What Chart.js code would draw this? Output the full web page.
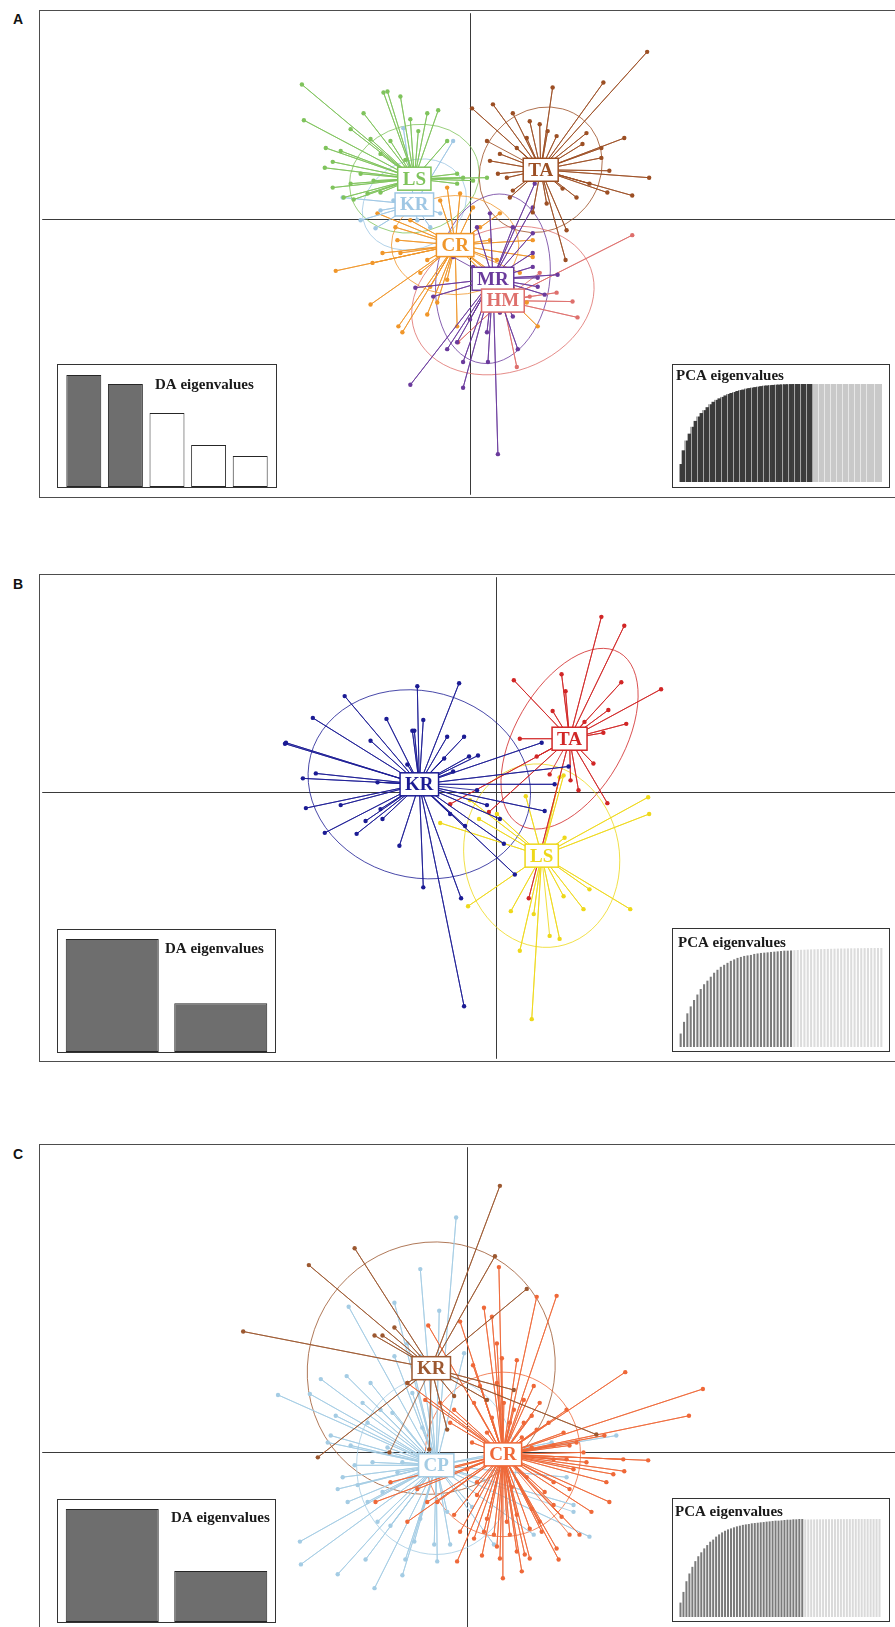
<!DOCTYPE html>
<html>
<head>
<meta charset="utf-8">
<script src="https://cdn.jsdelivr.net/npm/chart.js@4.4.1/dist/chart.umd.min.js"></script>
<style>
html, body { margin: 0; padding: 0; background: #fff; width: 895px; height: 1627px; overflow: hidden; }
.panel { position: absolute; left: 39px; width: 960px; height: 486px; border: 1px solid #4d4d4d; }
.panel canvas { position: absolute; left: 0; top: 0; }
.tag { position: absolute; left: 13px; font: bold 14px "Liberation Sans", Arial, sans-serif; color: #111; }
.inset { position: absolute; box-sizing: border-box; border: 1px solid #333; background: #fff; height: 124px; }
.inset canvas { position: absolute; left: 0; top: 0; }
</style>
</head>
<body>

<div class="tag" style="top:11px">A</div>
<div class="panel" style="top:10px"><canvas id="scA" width="880" height="486"></canvas></div>
<div class="inset" style="left:57px;top:364px;width:220px"><canvas id="daA" width="218" height="122"></canvas></div>
<div class="inset" style="left:672px;top:364px;width:218px"><canvas id="pcaA" width="216" height="122"></canvas></div>

<div class="tag" style="top:576px">B</div>
<div class="panel" style="top:574px"><canvas id="scB" width="880" height="486"></canvas></div>
<div class="inset" style="left:57px;top:929px;width:219px"><canvas id="daB" width="217" height="122"></canvas></div>
<div class="inset" style="left:672px;top:928px;width:218px"><canvas id="pcaB" width="216" height="122"></canvas></div>

<div class="tag" style="top:1146px">C</div>
<div class="panel" style="top:1144px"><canvas id="scC" width="880" height="486"></canvas></div>
<div class="inset" style="left:57px;top:1499px;width:219px"><canvas id="daC" width="217" height="122"></canvas></div>
<div class="inset" style="left:672px;top:1498px;width:218px"><canvas id="pcaC" width="216" height="122"></canvas></div>

<script>
// ---- panel A ----
const groupsA = ['LS', 'KR', 'TA', 'MR', 'CR', 'HM'];
const centersA = [[-5.6, 4.1], [-5.6, 1.5], [7.1, 5.0], [2.3, -6.0], [-1.5, -2.6], [3.3, -8.2]];
const ellipsesA = [[6.6, 5.4, 15], [5.4, 4.4, 25], [6.6, 5.9, 50], [5.7, 8.6, -8], [6.4, 5.0, 0], [9.4, 7.2, 20]];
const ptsA_LS = [[-16.9,13.6],[-16.7,10.0],[-14.5,7.2],[-14.6,5.2],[-13.8,5.8],[-11.7,2.0],[-12.7,2.2],[-10.3,2.6],[-9.0,2.7],[-10.7,10.7],[-8.7,12.8],[-7.0,12.4],[-4.3,10.7],[-3.2,11.0],[-12.0,9.1],[-10.0,8.1],[-13.0,6.9],[-9.0,6.6],[-8.0,7.9],[-6.0,10.1],[-5.2,8.9],[-11.0,4.6],[-9.7,3.9],[-12.0,3.6],[-13.8,3.2],[-2.3,7.9],[-1.3,4.6],[0.3,3.9],[1.7,4.2],[-0.7,4.2],[-1.3,3.6],[-8.3,12.9],[-6.5,6.0]];
const ptsA_KR = [[-6.7,9.2],[-1.7,7.9],[-12.8,2.2],[-11.0,-0.1],[-9.5,-0.9],[-5.3,-0.1],[-9.0,0.9],[-4.0,-0.8],[-3.0,0.6],[-7.7,1.9]];
const ptsA_TA = [[17.8,16.9],[13.4,13.8],[8.3,13.3],[2.3,11.6],[0.2,11.2],[4.3,10.7],[6.0,9.9],[7.0,9.6],[7.8,8.9],[8.7,8.4],[11.7,8.7],[11.3,7.6],[13.2,7.2],[15.5,8.2],[13.2,6.2],[14.0,4.9],[18.0,4.2],[16.3,2.4],[13.8,2.7],[12.0,3.6],[10.7,2.2],[9.3,3.1],[9.7,-1.1],[9.6,-4.1],[7.7,1.6],[6.3,0.7],[4.0,2.2],[2.8,4.6],[2.0,5.9],[3.0,6.6],[4.7,7.2],[3.7,4.2],[4.3,2.9],[5.7,8.2],[1.7,7.9]];
const ptsA_MR = [[-6.0,-16.7],[-0.7,-17.0],[2.8,-23.7],[-2.3,-13.1],[-0.7,-14.4],[1.8,-14.4],[4.8,-13.1],[-1.3,-12.4],[-5.5,-6.9],[-3.7,-7.8],[4.3,-9.8],[6.8,-5.9],[8.8,-5.6],[6.8,-6.8],[7.5,-7.6],[6.3,-4.8],[6.3,-3.4],[6.3,-1.4],[4.3,-0.8],[6.3,1.2],[6.5,3.6],[2.0,0.6],[0.7,-0.8],[0.3,-4.8],[3.0,-9.4],[1.7,-11.4],[0.0,-10.1],[-1.7,-3.8]];
const ptsA_CR = [[-13.5,-5.2],[-9.8,-4.4],[-8.8,-3.4],[-10.0,-8.6],[-7.2,-10.8],[-6.8,-11.4],[-4.3,-9.6],[-3.3,-8.4],[-7.0,-3.4],[-7.3,-2.1],[-7.5,-0.8],[-9.3,0.6],[-6.0,-0.1],[-4.3,-4.1],[-5.0,-5.4],[-4.0,-6.8],[-2.3,-6.1],[-1.3,-10.8],[6.3,-3.8],[6.8,-10.8],[5.7,-8.4],[4.3,-6.9],[2.7,-4.1],[2.0,-2.1],[1.0,-0.8],[0.3,1.2],[-1.0,2.6],[-2.3,3.2],[-3.0,1.9],[3.0,0.6],[6.3,-2.1],[5.0,-5.4]];
const ptsA_HM = [[16.3,-1.6],[10.3,-8.3],[10.8,-9.9],[4.7,-14.9],[-1.2,-12.4],[8.7,-7.4],[6.0,-7.8],[3.0,-9.4],[1.7,-6.1],[7.0,-5.4]];
const pointsA = [ptsA_LS, ptsA_KR, ptsA_TA, ptsA_MR, ptsA_CR, ptsA_HM];
const daA = [11.2, 10.3, 7.4, 4.2, 3.1];
const daKeepA = 2;
const pcaA = [0.18,0.32,0.42,0.49,0.56,0.62,0.665,0.70,0.73,0.76,0.79,0.815,0.835,0.85,0.865,0.88,0.895,0.905,0.915,0.925,0.935,0.94,0.95,0.955,0.96,0.965,0.97,0.975,0.98,0.982,0.985,0.987,0.99,0.991,0.993,0.994,0.995,0.996,0.997,0.998,0.998,0.999,0.999,1,1,
  1,1,1,1,1,1,1,1,1,1,1,1,1,1,1,1,1,1,1,1,1,1,1];
const pcaKeepA = 45;

// ---- panel B ----
const groupsB = ['KR', 'TA', 'LS'];
const centersB = [[-7.7, 0.8], [7.4, 5.4], [4.6, -6.4]];
const ellipsesB = [[11.3, 9.4, -15], [10.0, 5.5, 60], [7.8, 9.3, 10]];
const ptsB_KR = [[-7.9,10.7],[-3.7,11.0],[-15.2,9.7],[-18.4,7.5],[-11.0,7.4],[-7.3,7.3],[-8.4,6.2],[-8.2,6.2],[-12.6,5.2],[-21.1,5.0],[-21.2,4.9],[-4.9,5.6],[-3.2,5.6],[-2.7,3.6],[-1.8,3.7],[-5.2,3.4],[-4.3,2.1],[-8.9,2.8],[-18.1,1.9],[-19.4,1.4],[-11.9,1.0],[-19.1,-1.6],[-15.6,-1.3],[-17.2,-4.1],[-14.0,-4.2],[-13.1,-2.9],[-11.4,-2.7],[-11.6,-1.7],[-9.7,-5.4],[-7.3,-9.6],[-3.5,-10.7],[-3.2,-21.6],[1.9,-8.3],[0.8,-5.2],[-3.1,-3.4],[4.9,-1.9],[5.9,0.8],[7.3,2.6],[4.6,5.0],[0.4,-2.7],[-0.9,-1.3],[-4.6,-2.2],[-1.9,0.2]];
const ptsB_TA = [[10.6,17.7],[12.9,16.8],[1.8,11.3],[6.6,11.9],[7.0,10.2],[12.6,11.1],[16.6,10.4],[11.3,8.3],[13.1,6.9],[8.9,7.1],[5.7,8.2],[2.4,5.4],[4.1,3.6],[10.8,6.0],[9.8,2.9],[8.3,0.2],[11.2,-1.1],[7.5,1.2],[-4.6,-1.2],[-0.7,-2.0],[3.3,-10.7],[5.4,1.8]];
const ptsB_LS = [[3.6,-22.9],[2.4,-16.0],[6.4,-14.8],[8.8,-11.8],[13.5,-11.8],[1.5,-12.0],[3.8,-12.3],[-2.8,-11.5],[6.8,-10.5],[15.3,-0.5],[15.4,-2.2],[6.9,-4.6],[-5.6,-3.1],[-1.7,-2.7],[3.0,-0.4],[6.4,1.5],[6.8,1.7],[-2.6,-0.8],[0.1,-2.2],[9.4,-9.8],[5.4,-14.5]];
const pointsB = [ptsB_KR, ptsB_TA, ptsB_LS];
const daB = [11.1, 4.8];
const daKeepB = 2;
const pcaB = [0.136,0.254,0.34,0.41,0.475,0.53,0.586,0.634,0.67,0.71,0.75,0.78,0.81,0.83,0.85,0.87,0.885,0.9,0.91,0.92,0.925,0.93,0.94,0.945,0.95,0.953,0.956,0.96,0.963,0.966,0.97,0.973,0.973,0.975,
  0.978,0.98,0.982,0.983,0.985,0.986,0.987,0.988,0.989,0.99,0.991,0.992,0.993,0.994,0.995,0.995,0.996,0.997,0.997,0.998,0.998,0.999,0.999,1,1,1,1];
const pcaKeepB = 34;

// ---- panel C ----
const groupsC = ['KR', 'CR', 'CP'];
const centersC = [[-3.6, 8.5], [3.6, -0.2], [-3.1, -1.3]];
const ellipsesC = [[12.8, 12.4, 60], [7.8, 8.3, 0], [8.0, 9.0, 0]];
const ptsC_KR = [[3.3,26.9],[-11.3,20.6],[-15.9,18.9],[2.8,19.8],[6.0,16.5],[-22.5,12.2],[-7.3,12.6],[-9.3,11.8],[-8.5,11.8],[-15.0,-0.5],[-6.0,7.0],[4.7,6.3],[2.0,5.3],[-1.3,5.7],[13.0,1.8],[-2.0,2.3],[-3.8,0.3],[-7.8,0.0]];
const ptsC_CR = [[3.2,18.7],[7.0,15.7],[9.0,15.8],[1.7,14.6],[2.5,13.7],[-0.7,13.2],[-3.9,12.8],[3.0,11.0],[3.5,9.5],[5.0,9.3],[0.6,8.8],[15.9,8.1],[23.7,6.4],[22.3,3.7],[13.8,1.7],[18.2,-0.8],[15.8,-1.9],[14.3,-5.0],[11.3,-8.3],[9.2,-10.8],[5.8,-10.3],[2.7,-8.3],[0.7,-8.7],[-0.7,-8.0],[-3.0,-5.0],[-6.0,-7.0],[-9.2,-5.0],[-7.7,-3.0],[-4.0,-2.3],[-6.0,7.0],[-4.2,5.3],[-2.7,5.0],[-1.3,4.3],[5.7,5.3],[6.7,6.7],[7.3,5.0],[8.2,3.0],[9.7,2.0],[10.3,0.7],[12.0,-1.0],[10.7,-1.7],[8.7,-3.0],[7.8,-4.0],[6.5,-5.7],[5.0,-6.3],[4.0,-7.0],[2.0,-6.7],[1.0,-4.3],[0.0,-1.7],[-1.7,3.0],[4.7,4.3],[4.3,3.0],[8.7,-0.7],[14.0,-3.0],[5.5,-12.0],[3.6,-12.7],[-1.0,-11.0],[1.5,-10.4],[2.0,2.0],[5.5,1.5],[6.0,-2.5],[1.0,-3.0],[4.5,-3.5],[6.5,0.5],[2.5,3.5],[0.5,1.0],[11.0,1.0],[9.5,-6.5],[12.5,-6.0],[3.0,-9.5],[7.5,-8.0],
  [10.3,-3.7],[8.7,-5.3],[7.3,-7.0],[6.3,-7.7],[4.3,-8.3],[1.7,-8.0],[-1.3,-6.3],[-4.0,-5.0],[-5.0,-3.7],[8.7,0.7],[10.0,-0.7],[11.7,0.0],[14.7,-2.2],[15.7,-0.7],[7.0,2.3],[5.7,3.0],[3.7,5.0],[3.0,7.0],[1.3,6.7],[0.7,5.0],[6.5,3.7],[10.0,4.3],[9.0,-9.7],[5.0,-10.0],[3.3,-10.7],[6.3,-10.7],[10.3,-8.3]];
const ptsC_CP = [[-1.1,23.7],[-4.7,18.5],[-11.9,14.7],[-7.3,15.1],[-2.8,14.3],[-19.0,5.8],[-14.7,7.4],[-12.1,7.7],[-15.8,5.9],[-13.2,3.7],[-10.0,3.0],[-11.3,-1.3],[-9.5,-1.0],[-11.0,-3.3],[-16.8,-9.0],[-16.7,-11.3],[-12.0,-5.0],[-9.0,-7.0],[-7.7,-7.4],[-6.2,-10.8],[-3.3,-9.3],[-1.7,-9.3],[6.7,-8.3],[12.3,-8.5],[15.0,1.7],[10.7,-5.3],[2.7,-9.3],[-6.0,11.0],[-4.7,9.7],[-0.3,10.0],[-9.3,-13.7],[-10.2,-10.8],[-13.0,-12.3],[-6.5,-12.4],[-6.5,-1.0],[-8.0,0.5],[-5.0,-3.5],[-7.0,-2.0],[-4.5,2.5],[-14.0,1.0],[-12.5,-2.5],[-8.5,-4.0],[-2.0,-6.0],[0.5,-5.5],[-10.5,5.0],[-7.5,4.0],[-5.5,6.0],[8.5,1.0],[10.0,-2.5],
  [-7.3,9.7],[-9.7,7.0],[-8.7,4.3],[-13.7,1.7],[-11.7,0.7],[-13.0,-3.7],[-10.0,-5.0],[-4.7,-6.7],[-3.0,-11.0],[-5.3,-9.0],[10.7,-6.0]];
const pointsC = [ptsC_KR, ptsC_CR, ptsC_CP];
const daC = [11.1, 5.0];
const daKeepC = 2;
const pcaC = [0.147,0.256,0.365,0.444,0.512,0.57,0.62,0.66,0.70,0.734,0.768,0.79,0.82,0.843,0.863,0.88,0.894,0.904,0.915,0.925,0.932,0.94,0.945,0.949,0.956,0.959,0.962,0.966,0.969,0.973,0.976,0.98,0.983,0.983,0.986,0.99,0.993,0.993,0.997,0.997,1,1,
  0.995,0.995,0.996,0.996,0.997,0.997,0.997,0.998,0.998,0.998,0.998,0.999,0.999,0.999,0.999,0.999,1,1,1,1,1,1,1,1,1,1];
const pcaKeepC = 42;

// colours
const colorsA = ['#7fc35c', '#9fc7e4', '#9c4f24', '#6a3a9c', '#f0962a', '#de6f6c'];
const colorsB = ['#1b1b94', '#d12626', '#eed81a'];
const colorsC = ['#9c5830', '#ef6838', '#a4cce4'];

const serif = '"Liberation Serif", "Times New Roman", serif';

function starData(center, pts) {
  const out = [];
  pts.forEach(p => {
    out.push({x: center[0], y: center[1]});
    out.push({x: p[0], y: p[1]});
  });
  return out;
}

const crossAxes = {
  id: 'crossAxes',
  beforeDatasetsDraw(chart) {
    const {ctx, chartArea: a, scales: {x, y}} = chart;
    const x0 = Math.round(x.getPixelForValue(0)) + 0.5;
    const y0 = Math.round(y.getPixelForValue(0)) + 0.5;
    ctx.save();
    ctx.strokeStyle = '#3a3a3a';
    ctx.lineWidth = 1;
    ctx.beginPath();
    ctx.moveTo(x0, a.top); ctx.lineTo(x0, a.bottom);
    ctx.moveTo(a.left, y0); ctx.lineTo(a.right, y0);
    ctx.stroke();
    ctx.restore();
  }
};

function groupDecor(groups, centers, ellipses, colors) {
  return {
    id: 'groupDecor',
    beforeDatasetsDraw(chart) {
      const {ctx, scales: {x, y}} = chart;
      ctx.save();
      ctx.lineWidth = 1;
      centers.forEach((c, i) => {
        const cx = x.getPixelForValue(c[0]);
        const cy = y.getPixelForValue(c[1]);
        const rx = x.getPixelForValue(c[0] + ellipses[i][0]) - cx;
        const ry = cy - y.getPixelForValue(c[1] + ellipses[i][1]);
        ctx.strokeStyle = colors[i] + 'cc';
        ctx.beginPath();
        ctx.ellipse(cx, cy, rx, ry, -ellipses[i][2] * Math.PI / 180, 0, Math.PI * 2);
        ctx.stroke();
      });
      ctx.restore();
    },
    afterDatasetsDraw(chart) {
      const {ctx, scales: {x, y}} = chart;
      ctx.save();
      ctx.font = 'bold 19px ' + serif;
      ctx.textAlign = 'center';
      ctx.textBaseline = 'middle';
      groups.forEach((g, i) => {
        const cx = x.getPixelForValue(centers[i][0]);
        const cy = y.getPixelForValue(centers[i][1]);
        const w = ctx.measureText(g).width + 10, h = 23;
        ctx.fillStyle = '#fff';
        ctx.fillRect(cx - w / 2, cy - h / 2, w, h);
        ctx.strokeStyle = colors[i];
        ctx.lineWidth = 1.5;
        ctx.strokeRect(cx - w / 2, cy - h / 2, w, h);
        ctx.fillStyle = colors[i];
        ctx.fillText(g, cx, cy + 1);
      });
      ctx.restore();
    }
  };
}

function drawScatter(id, groups, centers, points, ellipses, colors, xr, yr) {
  new Chart(document.getElementById(id), {
    type: 'scatter',
    data: {
      datasets: groups.map((g, i) => ({
        label: g,
        data: starData(centers[i], points[i]),
        showLine: true,
        borderColor: colors[i] + 'd9',
        borderWidth: 1,
        backgroundColor: colors[i],
        pointBackgroundColor: colors[i],
        pointBorderWidth: 0,
        pointRadius: ctx => ctx.dataIndex % 2 === 1 ? 2.2 : 0,
        pointHoverRadius: 0
      }))
    },
    options: {
      responsive: false,
      animation: false,
      events: [],
      layout: {padding: 0},
      plugins: {legend: {display: false}, tooltip: {enabled: false}},
      scales: {
        x: {type: 'linear', display: false, min: xr[0], max: xr[1]},
        y: {type: 'linear', display: false, min: yr[0], max: yr[1]}
      }
    },
    plugins: [crossAxes, groupDecor(groups, centers, ellipses, colors)]
  });
}

const insetTitle = {
  id: 'insetTitle',
  afterDraw(chart, args, opts) {
    const ctx = chart.ctx;
    ctx.save();
    ctx.font = 'bold 15px ' + serif;
    ctx.fillStyle = '#1a1a1a';
    ctx.textAlign = 'left';
    ctx.textBaseline = 'middle';
    ctx.fillText(opts.text, opts.x, opts.y);
    ctx.restore();
  }
};

function drawDA(id, values, nKeep, pad, barPct, tx, ty) {
  new Chart(document.getElementById(id), {
    type: 'bar',
    data: {
      labels: values.map((v, i) => 'LD' + (i + 1)),
      datasets: [{
        data: values,
        backgroundColor: values.map((v, i) => i < nKeep ? '#6e6e6e' : '#ffffff'),
        borderColor: '#262626',
        borderWidth: 1,
        borderSkipped: false,
        barPercentage: barPct,
        categoryPercentage: 1
      }]
    },
    options: {
      responsive: false, animation: false, events: [],
      layout: {padding: pad},
      plugins: {legend: {display: false}, tooltip: {enabled: false},
        insetTitle: {text: 'DA eigenvalues', x: tx, y: ty}},
      scales: {
        x: {display: false},
        y: {display: false, min: 0, max: Math.max(...values)}
      }
    },
    plugins: [insetTitle]
  });
}

function drawPCA(id, values, nKeep, dark, light, pad, barPct, stripes, tx, ty) {
  const scales = {
    x: {display: false},
    y: {display: false, min: 0, max: 1}
  };
  if (stripes) {
    scales.x2 = {
      type: 'linear', position: 'bottom', min: 0, max: 32.5,
      ticks: {display: false, stepSize: 1},
      grid: {z: 1, color: 'rgba(255,255,255,0.55)', lineWidth: 1, drawTicks: false},
      border: {display: false},
      afterFit(axis) { axis.height = 0; }
    };
  }
  new Chart(document.getElementById(id), {
    type: 'bar',
    data: {
      labels: values.map((v, i) => 'PC' + (i + 1)),
      datasets: [{
        data: values,
        backgroundColor: values.map((v, i) => i < nKeep ? dark : light),
        borderWidth: 0,
        barPercentage: barPct,
        categoryPercentage: 1
      }]
    },
    options: {
      responsive: false, animation: false, events: [],
      layout: {padding: pad},
      plugins: {legend: {display: false}, tooltip: {enabled: false},
        insetTitle: {text: 'PCA eigenvalues', x: tx, y: ty}},
      scales: scales
    },
    plugins: [insetTitle]
  });
}

drawScatter('scA', groupsA, centersA, pointsA, ellipsesA, colorsA, [-43.0, 45.0], [-27.8, 20.8]);
drawScatter('scB', groupsB, centersB, pointsB, ellipsesB, colorsB, [-45.6, 42.4], [-26.9, 21.7]);
drawScatter('scC', groupsC, centersC, pointsC, ellipsesC, colorsC, [-42.7, 45.3], [-17.8, 30.8]);

drawDA('daA', daA, daKeepA, {left: 5, right: 5, top: 10, bottom: 0}, 0.84, 97, 20);
drawDA('daB', daB, daKeepB, {left: 0, right: 0, top: 9, bottom: 0}, 0.857, 107, 19);
drawDA('daC', daC, daKeepC, {left: 0, right: 0, top: 9, bottom: 0}, 0.857, 113, 18);

drawPCA('pcaA', pcaA, pcaKeepA, '#3b3b3b', '#c9c9c9', {left: 6, right: 7, top: 19, bottom: 5}, 1, true, 3, 11);
drawPCA('pcaB', pcaB, pcaKeepB, '#7b7b7b', '#dcdcdc', {left: 6, right: 6, top: 19, bottom: 4}, 0.62, false, 5, 14);
drawPCA('pcaC', pcaC, pcaKeepC, '#7a7a7a', '#dadada', {left: 6, right: 8, top: 20, bottom: 4}, 0.68, false, 2, 13);
</script>
</body>
</html>
